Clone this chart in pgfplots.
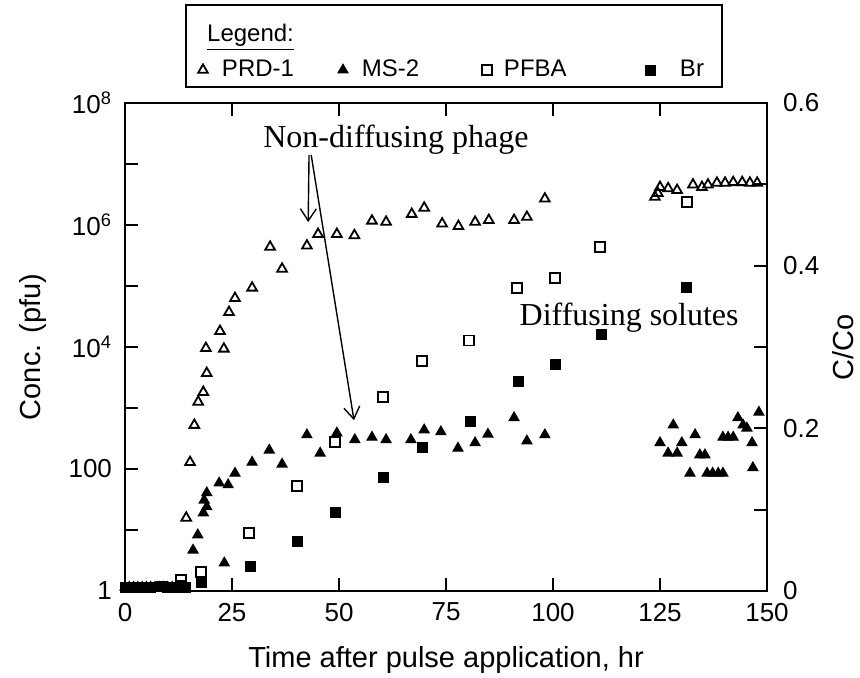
\documentclass[border=0pt]{standalone}
\usepackage{fontspec}
\setmainfont{Liberation Sans}
\newfontfamily\timesfont{Liberation Serif}
\usepackage{pgfplots}
\pgfplotsset{compat=1.18}
\usetikzlibrary{arrows.meta}

% 1 px of the scan = 0.5pt; plot box 642 x 488 px
\pgfplotsset{
  scanaxis/.style={
    scale only axis, width=321pt, height=244pt,
    at={(0,0)}, anchor=south west,
    xmin=0, xmax=150,
    clip mode=individual,
    axis line style={line width=1pt},
    tick style={line width=0.9pt, black},
    major tick length=6.5pt,
    tick align=inside,
    /pgf/number format/assume math mode=true,
    ticklabel style={font=\fontsize{13}{15}\selectfont},
    label style={font=\fontsize{14.5}{16}\selectfont},
  },
}

\begin{document}
\begin{tikzpicture}
\begin{axis}[scanaxis,
  ymode=log, ymin=1, ymax=1e8,
  ytick={1,10,100,1000,1e4,1e5,1e6,1e7,1e8},
  yticklabels={1,,100,,10\textsuperscript{4},,10\textsuperscript{6},,10\textsuperscript{8}},
  yminorticks=false,
  ytick pos=left,
  yticklabel style={xshift=-3pt},
  xtick={0,25,50,75,100,125,150},
  xtick pos=both, xticklabel pos=lower,
  xticklabel style={yshift=-2.5pt},
  xlabel={Time after pulse application, hr},
  ylabel={Conc. (pfu)},
  xlabel style={at={(axis description cs:0.5,-0.141)}, anchor=center},
  ylabel style={at={(axis description cs:-0.143,0.5)}, anchor=center},
  legend columns=4,
  legend cell align=left,
  legend style={at={(axis description cs:0.095,1.0676)}, anchor=west,
    draw=none, fill=none, inner sep=0pt, outer sep=0pt, column sep=0pt,
    font=\fontsize{12}{14}\selectfont, nodes={inner sep=0pt}},
  legend image code/.code={%
    \path[draw=none, fill=none] (0pt,-3pt) rectangle (17pt,3pt);
    \draw[mark repeat=2,mark phase=2,#1,only marks] plot coordinates {(0pt,0pt)(8.5pt,0pt)(17pt,0pt)};},
]
% PRD-1
\addplot[only marks, mark=triangle, mark size=2.8pt, mark options={line width=0.9pt}] coordinates {
(14.3,15.8) (15.2,129) (16.2,525) (17.1,1260) (18.3,1820) (19.1,3720)
(18.9,9550) (23.1,9330) (22.2,1.82e4) (24.3,3.72e4) (25.7,6.31e4)
(29.7,9.33e4) (33.9,4.37e5) (36.7,1.91e5) (42.5,4.57e5) (45.1,7.08e5)
(49.5,7.08e5) (53.6,6.76e5) (57.7,1.17e6) (61.0,1.12e6) (67.0,1.51e6)
(69.9,1.91e6) (74.1,1.05e6) (77.9,9.55e5) (81.8,1.12e6) (85.0,1.20e6)
(90.9,1.20e6) (93.9,1.35e6) (98.1,2.69e6)
(123.8,2.88e6) (124.5,3.31e6) (125.0,4.17e6) (126.9,3.98e6) (129.0,3.72e6)
(132.7,4.57e6) (134.8,4.17e6) (136.2,4.57e6) (138.3,4.90e6) (140.2,4.90e6)
(142.1,5.01e6) (144.2,5.01e6) (146.0,4.90e6) (147.7,4.90e6)
};
% MS-2
\addplot[only marks, mark=triangle*, mark size=2.8pt, mark options={line width=0.6pt}] coordinates {
(0,1.15) (1,1.15) (2,1.15) (3,1.15) (4,1.15) (5,1.15) (6,1.15) (7,1.15)
(8,1.15) (9,1.15) (10,1.15) (11,1.15) (12,1.15) (13,1.15) (14,1.15)
(15.9,4.68) (17.0,8.32) (18.3,19.1) (19.1,24.0) (18.5,30.9) (19.1,40.7)
(22.0,58.9) (24.1,55.0) (23.2,2.88) (25.7,85.1) (29.7,129) (33.7,204)
(36.7,120) (42.5,363) (45.6,182) (49.5,389) (53.7,302) (57.7,331)
(61.0,302) (66.8,302) (69.9,437) (73.8,407) (77.8,219) (81.8,269)
(84.8,372) (90.9,692) (93.9,288) (98.1,363)
(125.0,269) (126.9,182) (128.1,525) (129.0,182) (130.1,269) (132.0,85.1)
(133.2,363) (134.3,170) (135.5,170) (136.0,85.1) (137.3,85.1) (138.6,85.1)
(139.7,85.1) (139.7,331) (140.9,331) (142.1,331) (143.2,692) (144.4,525)
(145.3,468) (146.5,269) (146.7,105) (148.1,851)
};
\addlegendimage{only marks, mark=square, mark size=2.5pt, mark options={line width=0.9pt}}
\addlegendimage{only marks, mark=square*, mark size=2.5pt}
\legend{{\makebox[53pt][l]{\hspace{1pt}PRD-1}},
        {\makebox[55pt][l]{\hspace{1pt}MS-2}},
        {\makebox[64.5pt][l]{PFBA}},
        {\hspace{6.5pt}Br}}

\draw[line width=0.9pt] (axis description cs:0.095,1.0328) rectangle (axis description cs:0.930,1.2008);
\node[anchor=base west, font=\fontsize{12}{14}\selectfont] at (axis description cs:0.117,1.125) {\underline{Legend:}};

\node[font=\timesfont\fontsize{16}{18}\selectfont] at (axis cs:63.3,2.47e7) {Non-diffusing phage};
\draw[-{Straight Barb[length=6pt,width=8pt]}, line width=0.7pt] (axis cs:43.0,1.41e7) -- (axis cs:42.8,1.12e6);
\draw[-{Straight Barb[length=6pt,width=8pt]}, line width=0.7pt] (axis cs:43.5,1.41e7) -- (axis cs:53.5,631);
\node[font=\timesfont\fontsize{16}{18}\selectfont] at (axis cs:117.8,3.0e4) {Diffusing solutes};
\end{axis}

\begin{axis}[scanaxis,
  ymin=0, ymax=0.6,
  axis y line*=right, axis x line=none,
  ytick={0,0.1,0.2,0.3,0.4,0.5,0.6},
  yticklabels={0,,0.2,,0.4,,0.6},
  yticklabel style={xshift=4.5pt},
  ylabel={C/Co},
  ylabel style={at={(axis description cs:1.118,0.5)}, anchor=center},
]
% PFBA
\addplot[only marks, mark=square, mark size=2.5pt, mark options={line width=0.9pt}] coordinates {
(13.1,0.014) (17.8,0.023) (29.0,0.071) (40.2,0.129) (49.1,0.183)
(60.3,0.239) (69.4,0.283) (80.4,0.308) (91.6,0.373) (100.5,0.385)
(111.0,0.423) (131.3,0.478)
};
% Br
\addplot[only marks, mark=square*, mark size=2.5pt] coordinates {
(0,0.004) (2,0.004) (4,0.004) (6,0.004) (8.4,0.006) (10,0.004) (12,0.004)
(13.1,0.007) (14,0.004)
(17.8,0.010) (29.2,0.030) (40.2,0.061) (49.1,0.097) (60.3,0.140)
(69.4,0.177) (80.6,0.209) (91.8,0.258) (100.5,0.279) (111.4,0.315)
(131.1,0.373)
};
\end{axis}
\pgfresetboundingbox
\path[use as bounding box] (-62.5pt,-43.5pt) rectangle (367.5pt,295.5pt);
\end{tikzpicture}
\end{document}
